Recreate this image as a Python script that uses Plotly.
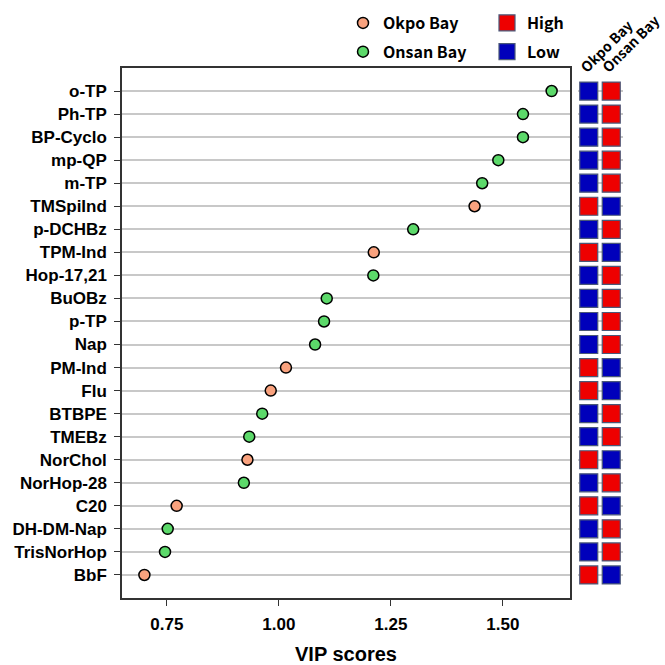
import plotly.graph_objects as go

compounds = ["o-TP", "Ph-TP", "BP-Cyclo", "mp-QP", "m-TP", "TMSpiInd", "p-DCHBz",
             "TPM-Ind", "Hop-17,21", "BuOBz", "p-TP", "Nap", "PM-Ind", "Flu", "BTBPE",
             "TMEBz", "NorChol", "NorHop-28", "C20", "DH-DM-Nap", "TrisNorHop", "BbF"]
vip = [1.609, 1.545, 1.545, 1.490, 1.454, 1.437, 1.300, 1.212, 1.211, 1.107, 1.101,
       1.081, 1.016, 0.982, 0.963, 0.934, 0.930, 0.922, 0.772, 0.752, 0.746, 0.700]
# site with the higher level: "Okpo Bay" or "Onsan Bay"
group = ["Onsan Bay", "Onsan Bay", "Onsan Bay", "Onsan Bay", "Onsan Bay", "Okpo Bay",
         "Onsan Bay", "Okpo Bay", "Onsan Bay", "Onsan Bay", "Onsan Bay", "Onsan Bay",
         "Okpo Bay", "Okpo Bay", "Onsan Bay", "Onsan Bay", "Okpo Bay", "Onsan Bay",
         "Okpo Bay", "Onsan Bay", "Onsan Bay", "Okpo Bay"]
sites = ["Okpo Bay", "Onsan Bay"]
levels = ["High", "Low"]
x_ticks = [0.75, 1.00, 1.25, 1.50]

site_colors = {"Okpo Bay": "#F9A27E", "Onsan Bay": "#5CD96A"}
level_colors = {"High": "#EE0000", "Low": "#0000BB"}

W = H = 665
def px(v):
    return v / W

fig = go.Figure()

# dot plot
for s in sites:
    xs = [v for v, g in zip(vip, group) if g == s]
    ys = [c for c, g in zip(compounds, group) if g == s]
    fig.add_trace(go.Scatter(
        x=xs, y=ys, mode="markers", name=s, legend="legend", legendgroup=s,
        marker=dict(size=11, color=site_colors[s], line=dict(color="black", width=1.5)),
        xaxis="x", yaxis="y"))

# heat-map squares
for lv in levels:
    hx, hy = [], []
    for c, g in zip(compounds, group):
        for s in sites:
            val = "High" if g == s else "Low"
            if val == lv:
                hx.append(s)
                hy.append(c)
    fig.add_trace(go.Scatter(
        x=hx, y=hy, mode="markers", name=lv, legend="legend2", legendgroup=lv,
        marker=dict(symbol="square", size=18, color=level_colors[lv],
                    line=dict(color="#4A5878", width=1.2)),
        xaxis="x2", yaxis="y"))

font_main = "Liberation Sans, Arial, sans-serif"
font_kr = "Noto Sans CJK KR, Noto Sans, sans-serif"

# rotated column headers for the heat-map
for s in sites:
    fig.add_annotation(
        x=s, xref="x2", y=1 - 79 / H, yref="paper", text=s, showarrow=False,
        textangle=-45, xanchor="left", yanchor="bottom", xshift=-16,
        font=dict(family=font_kr, size=14, color="black", weight="bold"))

fig.update_layout(
    width=W, height=H,
    margin=dict(l=0, r=0, t=0, b=0, autoexpand=False),
    plot_bgcolor="white", paper_bgcolor="white",
    showlegend=True,
    xaxis=dict(
        domain=[px(122), px(570)], range=[0.65, 1.65],
        tickvals=x_ticks, ticktext=[f"{t:.2f}" for t in x_ticks],
        ticks="outside", ticklen=6, tickwidth=1.2, tickcolor="#333",
        showgrid=False, zeroline=False,
        showline=True, linecolor="#333", linewidth=1.5, mirror=True,
        tickfont=dict(family=font_main, size=17, color="black", weight="bold"),
        ticklabelstandoff=4, automargin=False,
        title=dict(text="VIP scores", standoff=14,
                   font=dict(family=font_main, size=20, color="black", weight="bold")),
    ),
    yaxis=dict(
        domain=[1 - 598 / H, 1 - 68 / H],
        categoryorder="array", categoryarray=compounds,
        range=[len(compounds), -1],
        ticks="outside", ticklen=6, tickwidth=1.2, tickcolor="#333",
        showgrid=True, gridcolor="#C8C8C8", gridwidth=1.5,
        showline=True, linecolor="#333", linewidth=1.5, mirror=True,
        zeroline=False, automargin=False,
        tickfont=dict(family=font_main, size=17, color="black", weight="bold"),
        ticklabelstandoff=4,
    ),
    xaxis2=dict(
        domain=[px(577.5), px(622.5)], range=[-0.5, 1.5],
        categoryorder="array", categoryarray=sites,
        anchor="y", automargin=False,
        showgrid=False, zeroline=False, showline=False, ticks="",
        showticklabels=False,
    ),
    legend=dict(
        x=px(343), y=1 - 6 / H, xanchor="left", yanchor="top",
        orientation="v", traceorder="grouped", tracegroupgap=5,
        font=dict(family=font_kr, size=16, color="black", weight="bold"),
        bgcolor="rgba(0,0,0,0)", itemsizing="trace",
    ),
    legend2=dict(
        x=px(487), y=1 - 6 / H, xanchor="left", yanchor="top",
        orientation="v", traceorder="grouped", tracegroupgap=5,
        font=dict(family=font_kr, size=16, color="black", weight="bold"),
        bgcolor="rgba(0,0,0,0)", itemsizing="trace",
    ),
)

fig.write_html("out.html", config={"displayModeBar": False},
               post_script="document.body.style.margin='0px';")
